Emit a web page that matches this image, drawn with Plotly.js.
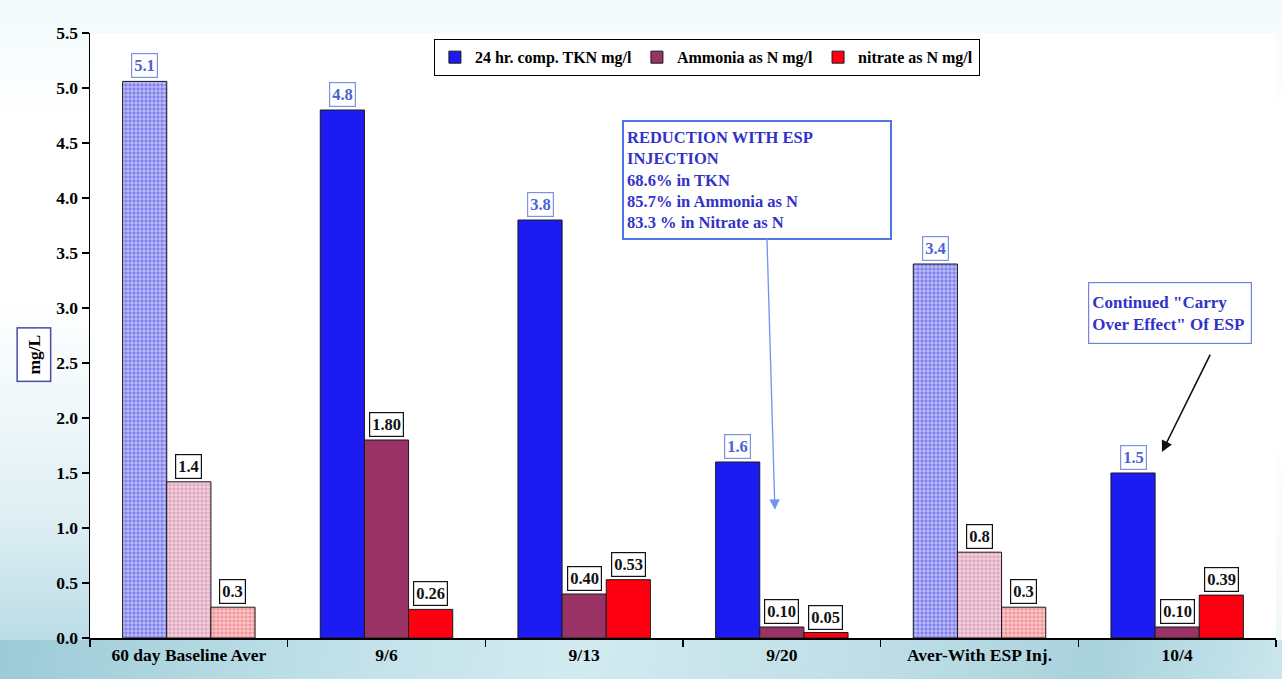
<!DOCTYPE html>
<html>
<head>
<meta charset="utf-8">
<script src="https://cdn.plot.ly/plotly-3.0.1.min.js"></script>
<style>
  html, body { margin: 0; padding: 0; width: 1282px; height: 679px; overflow: hidden; }
  body { background: linear-gradient(to bottom, #f2fafb 0px, #ffffff 120px, #ffffff 420px, #eef7f9 679px); position: relative; }
  #leftbg { position: absolute; left: 0; top: 0; width: 90px; height: 679px;
    background: linear-gradient(to bottom, rgba(255,255,255,0) 0px, rgba(255,255,255,0) 300px, rgba(200,228,235,0.55) 520px, rgba(170,212,224,0.9) 679px); }
  #bottombg { position: absolute; left: 0; top: 640px; width: 1282px; height: 39px;
    background: linear-gradient(100deg, #9ccad7 0%, #bfe0e8 25%, #d2ebf0 45%, #bddde6 70%, #a9d2dc 85%, #c9e6ec 100%); }
  #chart { position: absolute; left: 0; top: 0; width: 1282px; height: 679px; }
</style>
</head>
<body>
<div id="leftbg"></div>
<div id="bottombg"></div>
<div id="chart"></div>
<script>
// ---- data ----
var categories = ["60 day Baseline Aver", "9/6", "9/13", "9/20", "Aver-With ESP Inj.", "10/4"];
var seriesNames = ["24 hr. comp. TKN mg/l", "Ammonia as N mg/l", "nitrate as N mg/l"];
var tknValues = [5.06, 4.8, 3.8, 1.6, 3.4, 1.5];
var ammoniaValues = [1.42, 1.8, 0.4, 0.1, 0.78, 0.1];
var nitrateValues = [0.28, 0.26, 0.53, 0.05, 0.28, 0.39];
var tknLabels = ["5.1", "4.8", "3.8", "1.6", "3.4", "1.5"];
var ammoniaLabels = ["1.4", "1.80", "0.40", "0.10", "0.8", "0.10"];
var nitrateLabels = ["0.3", "0.26", "0.53", "0.05", "0.3", "0.39"];
var averagedCategories = ["60 day Baseline Aver", "Aver-With ESP Inj."];
var yTickValues = [0, 0.5, 1, 1.5, 2, 2.5, 3, 3.5, 4, 4.5, 5, 5.5];
var yTickLabels = ["0.0", "0.5", "1.0", "1.5", "2.0", "2.5", "3.0", "3.5", "4.0", "4.5", "5.0", "5.5"];
var boxText1 = "REDUCTION WITH ESP<br>INJECTION<br>68.6% in TKN<br>85.7% in Ammonia as N<br>83.3 % in Nitrate as N";
var boxText2 = "Continued \"Carry<br>Over Effect\" Of ESP";
var yTitle = "mg/L";

// ---- styling ----
var FONT = "Liberation Serif, Times New Roman, serif";
var solidColors = ["#1c1cf2", "#993366", "#ff0012"];
var patternBg = ["#7f7ff0", "#e3a6c0", "#f29599"];
var labelColors = ["#4a63d0", "#111111", "#111111"];
var labelBorders = ["#7d93df", "#111111", "#111111"];
var allValues = [tknValues, ammoniaValues, nitrateValues];
var allLabels = [tknLabels, ammoniaLabels, nitrateLabels];
var barStep = 0.67 / 3;

function isAvg(c) { return averagedCategories.indexOf(c) >= 0; }

var traces = [];
for (var s = 0; s < 3; s++) {
  traces.push({
    type: "bar", name: seriesNames[s], x: categories,
    y: allValues[s].map(function (v, i) { return isAvg(categories[i]) ? null : v; }),
    offsetgroup: "g" + s, legendgroup: "g" + s,
    marker: { color: solidColors[s], line: { color: "#1a1a1a", width: 1 } },
    hoverinfo: "x+y"
  });
}
for (var s2 = 0; s2 < 3; s2++) {
  traces.push({
    type: "bar", name: seriesNames[s2], x: categories, showlegend: false,
    y: allValues[s2].map(function (v, i) { return isAvg(categories[i]) ? v : null; }),
    offsetgroup: "g" + s2, legendgroup: "g" + s2,
    marker: { color: patternBg[s2], line: { color: "#1a1a1a", width: 1 },
      pattern: { shape: "+", size: 4, solidity: 0.25, fgcolor: "#ffffff", bgcolor: patternBg[s2], fillmode: "replace" } },
    hoverinfo: "x+y"
  });
}

var annotations = [];
for (var s3 = 0; s3 < 3; s3++) {
  for (var i = 0; i < categories.length; i++) {
    annotations.push({
      x: i + (s3 - 1) * barStep, y: allValues[s3][i], xref: "x", yref: "y",
      text: allLabels[s3][i], showarrow: false, yanchor: "bottom", xanchor: "center", yshift: 3,
      font: { family: FONT, size: 16.5, color: labelColors[s3], weight: 700 },
      bgcolor: "#ffffff", bordercolor: labelBorders[s3], borderwidth: 1.2, borderpad: 2
    });
  }
}
annotations.push({
  xref: "paper", yref: "paper", x: -0.047, y: 0.468, text: yTitle, textangle: -90, showarrow: false,
  xanchor: "center", yanchor: "middle",
  font: { family: FONT, size: 17.5, color: "#000000", weight: 700 },
  bgcolor: "#ffffff", bordercolor: "#4a4aa8", borderwidth: 1.5, borderpad: 6
});
annotations.push({
  xref: "x", yref: "y", x: 2.875, y: 4.16, text: boxText1, showarrow: false, align: "left",
  xanchor: "center", yanchor: "middle", width: 260, height: 110,
  font: { family: FONT, size: 16.5, color: "#3232c8", weight: 700 },
  bgcolor: "#ffffff", bordercolor: "#4f74e3", borderwidth: 2, borderpad: 3
});
annotations.push({
  xref: "x", yref: "y", x: 2.965, y: 1.165, text: "", showarrow: true,
  ax: -8, ay: -273, axref: "pixel", ayref: "pixel",
  arrowcolor: "#6f94ea", arrowwidth: 1.3, arrowhead: 2, arrowsize: 1.6
});
annotations.push({
  xref: "x", yref: "y", x: 4.964, y: 2.955, text: boxText2, showarrow: false, align: "left",
  xanchor: "center", yanchor: "middle", width: 156, height: 54,
  font: { family: FONT, size: 17, color: "#3232c8", weight: 700 },
  bgcolor: "#ffffff", bordercolor: "#6f86d9", borderwidth: 1.2, borderpad: 3
});
annotations.push({
  xref: "x", yref: "y", x: 4.923, y: 1.69, text: "", showarrow: true,
  ax: 49, ay: -99, axref: "pixel", ayref: "pixel",
  arrowcolor: "#111111", arrowwidth: 1.6, arrowhead: 2, arrowsize: 1.4
});

var layout = {
  width: 1282, height: 679,
  margin: { l: 90, r: 6, t: 33, b: 41 },
  paper_bgcolor: "rgba(0,0,0,0)", plot_bgcolor: "#ffffff",
  barmode: "group", bargap: 0.33, bargroupgap: 0,
  showlegend: true,
  legend: {
    orientation: "h", x: 0.52, xanchor: "center", y: 0.99, yanchor: "top",
    bgcolor: "#ffffff", bordercolor: "#000000", borderwidth: 1.2,
    font: { family: FONT, size: 16, color: "#000000", weight: 700 },
    itemwidth: 30, tracegroupgap: 0,
    traceorder: "normal"
  },
  xaxis: {
    type: "category", categoryorder: "array", categoryarray: categories,
    showline: true, linecolor: "#000000", linewidth: 1.5,
    ticks: "outside", tickson: "boundaries", ticklen: 7, tickcolor: "#000000", tickwidth: 1.5,
    showgrid: false, zeroline: false,
    tickfont: { family: FONT, size: 17.5, color: "#000000", weight: 700 }
  },
  yaxis: {
    range: [0, 5.5], tickvals: yTickValues, ticktext: yTickLabels,
    showline: true, linecolor: "#000000", linewidth: 1.5,
    ticks: "outside", ticklen: 7, tickcolor: "#000000", tickwidth: 1.5,
    showgrid: false, zeroline: false,
    tickfont: { family: FONT, size: 17.5, color: "#000000", weight: 700 }
  },
  annotations: annotations
};

Plotly.newPlot("chart", traces, layout, { displayModeBar: false, staticPlot: true });
</script>
</body>
</html>
